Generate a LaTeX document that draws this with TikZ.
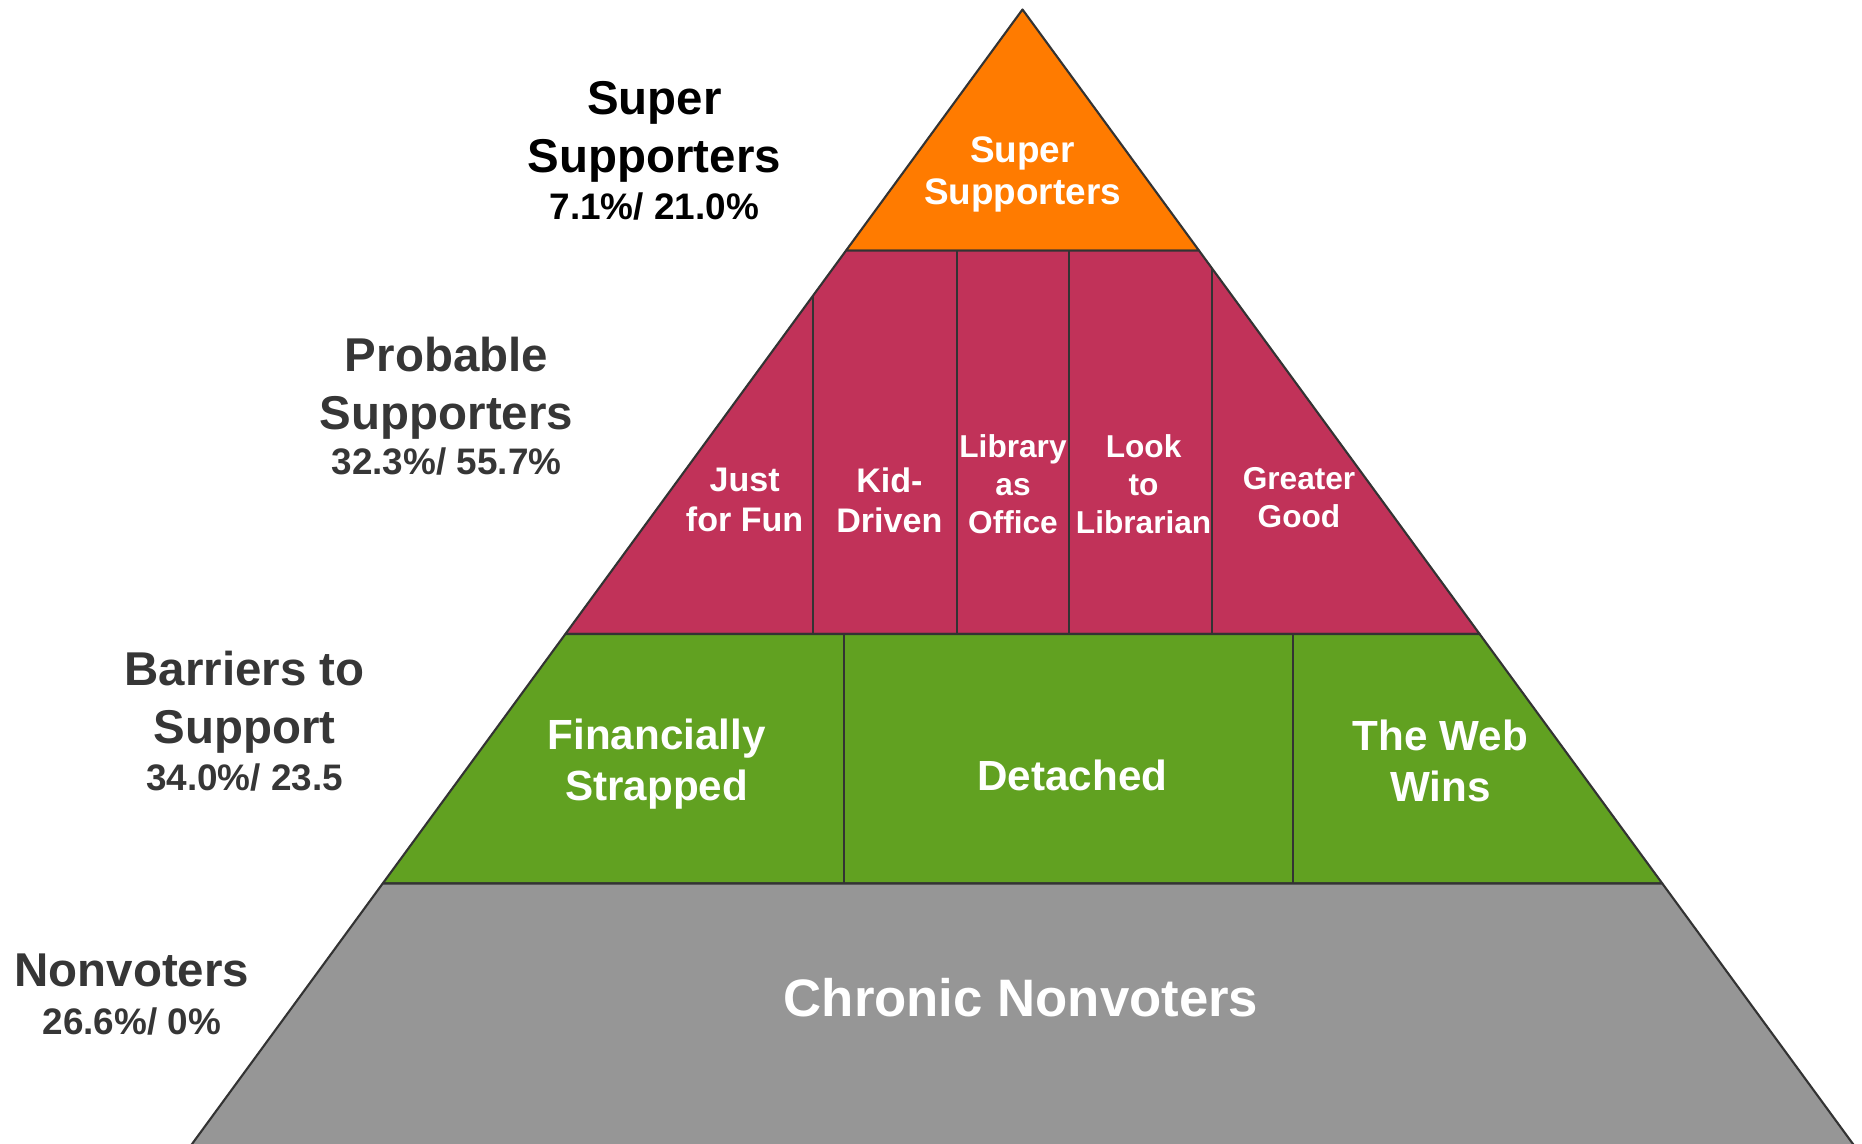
\documentclass[tikz,border=0pt]{standalone}
\usepackage{fontspec}
\setmainfont{Liberation Sans}
\usepackage{tikz}

\definecolor{superOrange}{HTML}{FF7B00}
\definecolor{probableRed}{HTML}{C13259}
\definecolor{barrierGreen}{HTML}{61A121}
\definecolor{nonvoterGray}{HTML}{969696}
\definecolor{edgeGray}{HTML}{333333}
\definecolor{labelGray}{HTML}{363636}

\tikzset{
  layer/.style={draw=edgeGray, line width=0.6pt, line join=round},
  sidelabel/.style={text=labelGray, align=center, inner sep=0pt,
    font=\bfseries\fontsize{13.5}{16.5}\selectfont},
  sideshare/.style={text=labelGray, align=center, inner sep=0pt,
    font=\bfseries\fontsize{10.5}{12.5}\selectfont},
  boxtext/.style 2 args={text=white, align=center, inner sep=0pt,
    font=\bfseries\fontsize{#1}{#2}\selectfont},
}

\begin{document}
\begin{tikzpicture}
        \useasboundingbox (0,0) rectangle (18.62,11.43);
        \clip (0,0) rectangle (18.62,11.43);

        % ピラミッドの角 (一番下は枠の外まで)
        \coordinate (apex) at (10.225,11.335);
        \coordinate (l1) at (8.460,8.924);  \coordinate (r1) at (11.990,8.924);
        \coordinate (l2) at (5.654,5.090);  \coordinate (r2) at (14.796,5.090);
        \coordinate (l3) at (3.827,2.595);  \coordinate (r3) at (16.623,2.595);
        \coordinate (l4) at (1.708,-0.3);   \coordinate (r4) at (18.742,-0.3);

        % 四つの層
        \filldraw[layer, fill=superOrange] (apex) -- (l1) -- (r1) -- cycle;
        \filldraw[layer, fill=probableRed] (l1) -- (l2) -- (r2) -- (r1) -- cycle;
        \filldraw[layer, fill=barrierGreen] (l2) -- (l3) -- (r3) -- (r2) -- cycle;
        \filldraw[layer, fill=nonvoterGray] (l3) -- (l4) -- (r4) -- (r3) -- cycle;

        % 層の中の仕切り
        \foreach \x/\top in {8.134/8.478, 9.570/8.924, 10.688/8.924, 12.124/8.741}
            \draw[layer] (\x,5.090) -- (\x,\top);
        \foreach \x in {8.443, 12.932}
            \draw[layer] (\x,2.595) -- (\x,5.090);

        % 左側のラベル
        \node[sidelabel, text=black] (superLabel) at (6.543,10.115) {Super\\Supporters};
        \node[sideshare, text=black] (superShare) at (6.543,9.364) {7.1\%/ 21.0\%};
        \node[sidelabel] (probableLabel) at (4.465,7.550) {Probable\\Supporters};
        \node[sideshare] (probableShare) at (4.465,6.810) {32.3\%/ 55.7\%};
        \node[sidelabel] (barrierLabel) at (2.446,4.403) {Barriers to\\Support};
        \node[sideshare] (barrierShare) at (2.446,3.652) {34.0\%/ 23.5};
        \node[sidelabel] (nonvoterLabel) at (1.318,1.728) {Nonvoters};
        \node[sideshare] (nonvoterShare) at (1.318,1.220) {26.6\%/ 0\%};

        % 層の中の名前
        \node[boxtext={10.5}{12.2}] (superBox) at (10.225,9.685) {Super\\Supporters};
        \node[boxtext={9.7}{11.4}] (justFun) at (7.446,6.431) {Just\\for Fun};
        \node[boxtext={9.7}{11.4}] (kidDriven) at (8.894,6.431) {Kid-\\Driven};
        \node[boxtext={9}{10.8}] (libraryOffice) at (10.130,6.585) {Library\\as\\Office};
        \node[boxtext={9}{10.8}] (lookLibrarian) at (11.436,6.585) {Look\\to\\Librarian};
        \node[boxtext={9}{10.8}] (greaterGood) at (12.990,6.455) {Greater\\Good};
        \node[boxtext={12}{14.5}] (finStrapped) at (6.567,3.785) {Financially\\Strapped};
        \node[boxtext={12}{14.5}] (detached) at (10.723,3.676) {Detached};
        \node[boxtext={12}{14.5}] (webWins) at (14.404,3.825) {The Web\\Wins};
        \node[boxtext={15}{18}] (chronic) at (10.210,1.455) {Chronic Nonvoters};
\end{tikzpicture}
\end{document}
